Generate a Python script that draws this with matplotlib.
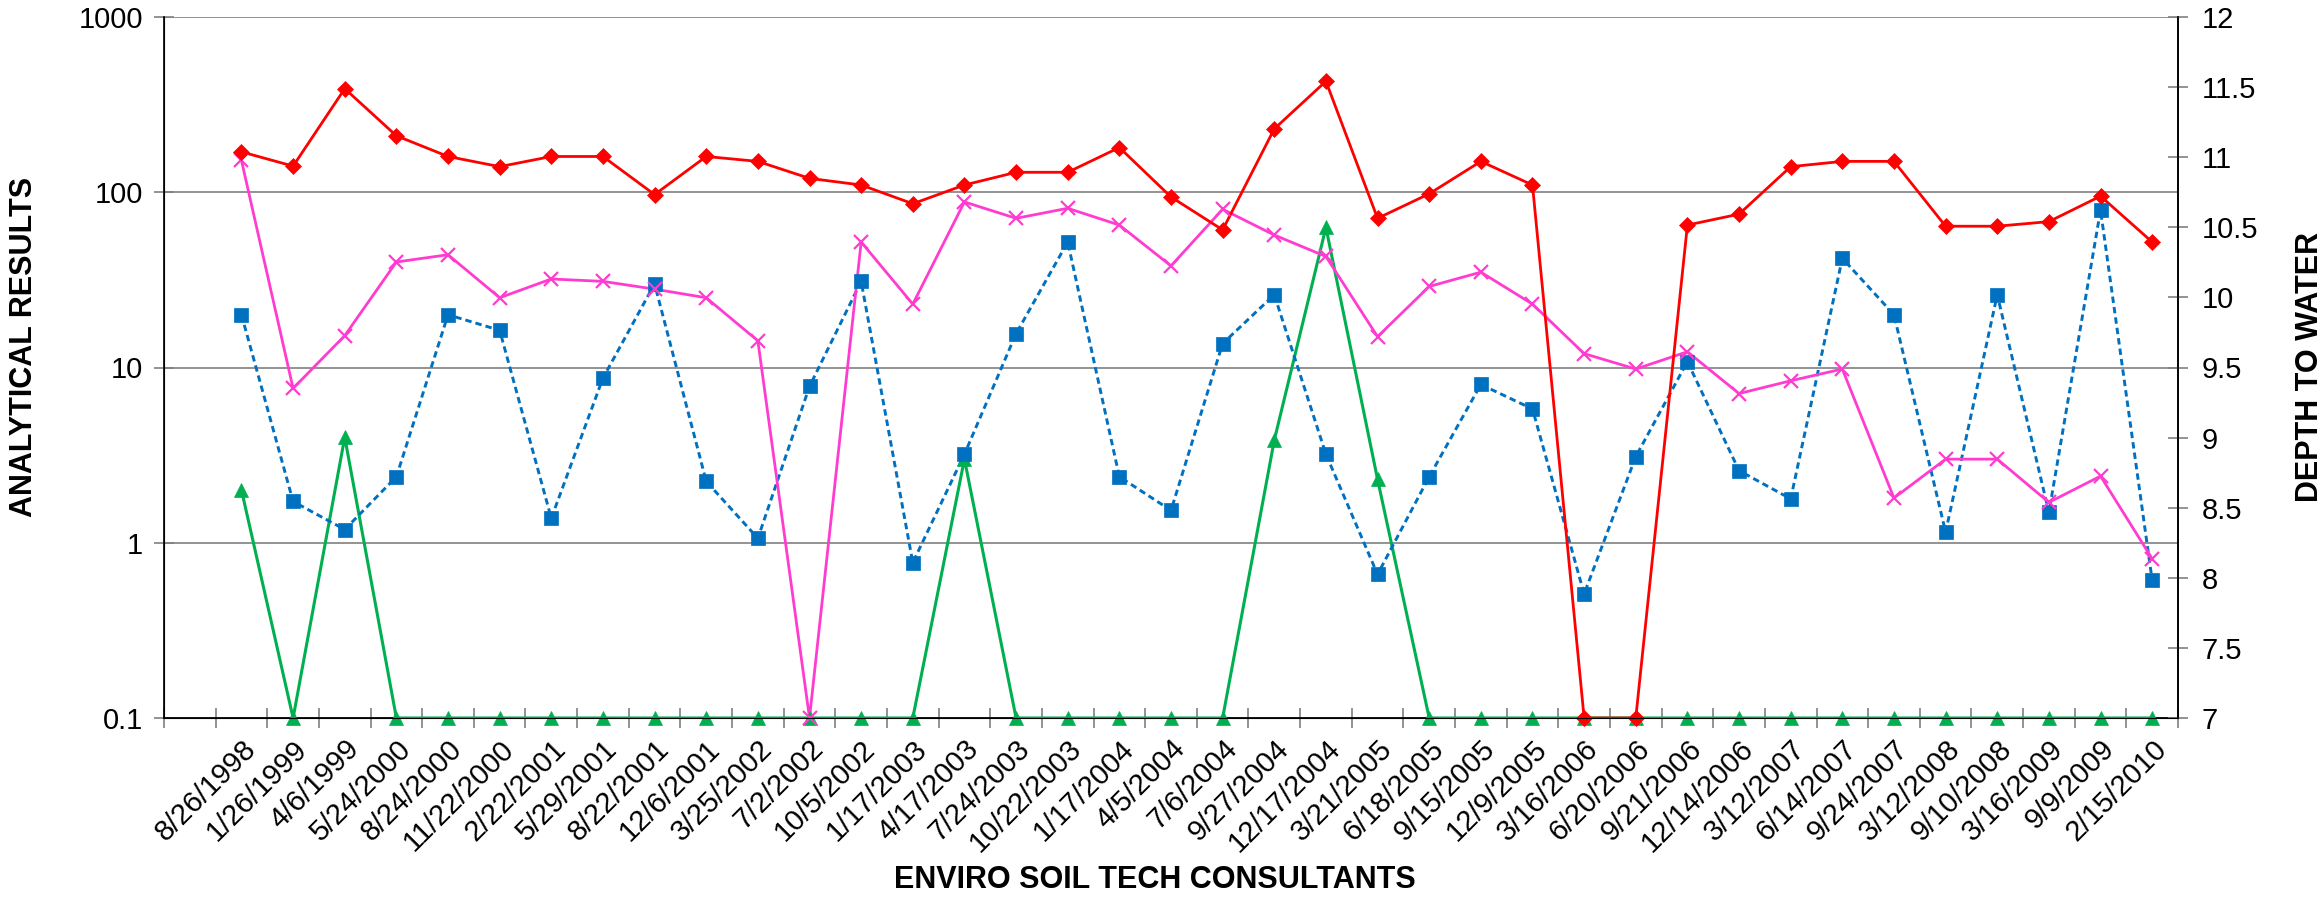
import numpy as np
import matplotlib.pyplot as plt
from matplotlib.ticker import FixedLocator, NullLocator

dates = ['8/26/1998', '1/26/1999', '4/6/1999', '5/24/2000', '8/24/2000', '11/22/2000',
         '2/22/2001', '5/29/2001', '8/22/2001', '12/6/2001', '3/25/2002', '7/2/2002',
         '10/5/2002', '1/17/2003', '4/17/2003', '7/24/2003', '10/22/2003', '1/17/2004',
         '4/5/2004', '7/6/2004', '9/27/2004', '12/17/2004', '3/21/2005', '6/18/2005',
         '9/15/2005', '12/9/2005', '3/16/2006', '6/20/2006', '9/21/2006', '12/14/2006',
         '3/12/2007', '6/14/2007', '9/24/2007', '3/12/2008', '9/10/2008', '3/16/2009',
         '9/9/2009', '2/15/2010']

red = [170, 141, 390, 210, 160, 140, 160, 160, 97, 160, 150, 120, 110, 86, 110, 130,
       130, 180, 94, 61, 230, 430, 71, 98, 150, 110, 0.1, 0.1, 65, 75, 140, 150, 150,
       64, 64, 68, 95, 52]
magenta = [152, 7.6, 15.2, 40, 44, 25, 32, 31, 28, 25, 14.2, 0.1, 52, 23, 88, 71,
           81, 65, 38, 80, 57, 43, 15, 29, 35, 23, 12, 9.8, 12.3, 7.1, 8.4, 9.8, 1.8,
           3.0, 3.0, 1.7, 2.4, 0.81]
blue = [20, 1.72, 1.19, 2.38, 20, 16.3, 1.38, 8.7, 30, 2.24, 1.06, 7.8, 31, 0.77,
        3.2, 15.6, 52, 2.38, 1.53, 13.7, 26, 3.2, 0.66, 2.38, 8.0, 5.8, 0.51, 3.1,
        10.8, 2.58, 1.78, 42, 20, 1.15, 26, 1.49, 79, 0.61]
green = [2, 0.1, 4, 0.1, 0.1, 0.1, 0.1, 0.1, 0.1, 0.1, 0.1, 0.1, 0.1, 0.1, 3, 0.1,
         0.1, 0.1, 0.1, 0.1, 3.85, 63, 2.3, 0.1, 0.1, 0.1, 0.1, 0.1, 0.1, 0.1, 0.1,
         0.1, 0.1, 0.1, 0.1, 0.1, 0.1, 0.1]

left_ticks = [0.1, 1, 10, 100, 1000]
right_ticks = [7, 7.5, 8, 8.5, 9, 9.5, 10, 10.5, 11, 11.5, 12]

plt.rcParams['font.family'] = ['Liberation Sans', 'DejaVu Sans']
narrow = ['Liberation Sans Narrow', 'Liberation Sans', 'DejaVu Sans']

fig = plt.figure(figsize=(23.22, 8.98), dpi=100)
ax = fig.add_axes([164 / 2322, 1 - 718 / 898, (2178 - 164) / 2322, (718 - 17) / 898])

x = np.arange(1, len(dates) + 1)

series = [
    (green, '#00B050', '^', 10.5, '-', 2.2),
    (blue, '#0070C0', 's', 10.5, (0, (2.2, 1.4)), 2.1),
    (magenta, '#FF3CCF', 'x', 10, '-', 2.0),
    (red, '#FF0000', 'D', 8, '-', 2.0),
]
for vals, col, mk, ms, ls, lw in series:
    ax.plot(x, vals, color=col, linestyle=ls, linewidth=lw, zorder=3)
    ax.plot(x, vals, color=col, linestyle='none', marker=mk, markersize=ms,
            markeredgewidth=1.6 if mk == 'x' else 0.5, clip_on=False, zorder=4)

ax.set_yscale('log')
ax.set_ylim(0.1, 1000)
ax.set_xlim(-0.5, len(dates) + 0.5)
ax.yaxis.set_major_locator(FixedLocator(left_ticks))
ax.yaxis.set_minor_locator(NullLocator())
ax.set_yticklabels(['0.1', '1', '10', '100', '1000'])
ax.yaxis.grid(True, color='#808080', linewidth=1.2)
ax.set_axisbelow(True)

ax.set_xticks(x)
ax.set_xticklabels(dates, rotation=45, ha='right', va='top', rotation_mode='anchor')
ax.set_xticks(np.arange(-0.5, len(dates) + 1), minor=True)
ax.tick_params(axis='x', which='major', length=0, pad=12, labelsize=21)
ax.tick_params(axis='x', which='minor', length=14, direction='inout', color='#808080', width=1.2)
ax.tick_params(axis='y', length=14, direction='inout', color='#808080', width=1.2, labelsize=21, pad=8)

ax.spines['top'].set_visible(False)
for s in ['left', 'bottom', 'right']:
    ax.spines[s].set_linewidth(1.2)

ax.set_ylabel('ANALYTICAL RESULTS', family=narrow, fontweight='bold', fontsize=22)
ax.yaxis.set_label_coords(-0.062, 0.53)
ax.set_xlabel('ENVIRO SOIL TECH CONSULTANTS', family=narrow, fontweight='bold', fontsize=22)
ax.xaxis.set_label_coords((1155 - 164) / 2014, -0.21)

ax2 = ax.twinx()
ax2.set_ylim(7, 12)
ax2.set_yticks(right_ticks)
ax2.set_yticklabels(['7', '7.5', '8', '8.5', '9', '9.5', '10', '10.5', '11', '11.5', '12'])
ax2.tick_params(axis='y', length=14, direction='inout', color='#808080', width=1.2, labelsize=21, pad=10)
ax2.spines['top'].set_visible(False)
ax2.spines['right'].set_linewidth(1.2)
ax2.set_ylabel('DEPTH TO WATER', family=narrow, fontweight='bold', fontsize=22, rotation=90)
ax2.yaxis.set_label_coords(1.058, 0.5)

fig.savefig('out.png', dpi=100)
